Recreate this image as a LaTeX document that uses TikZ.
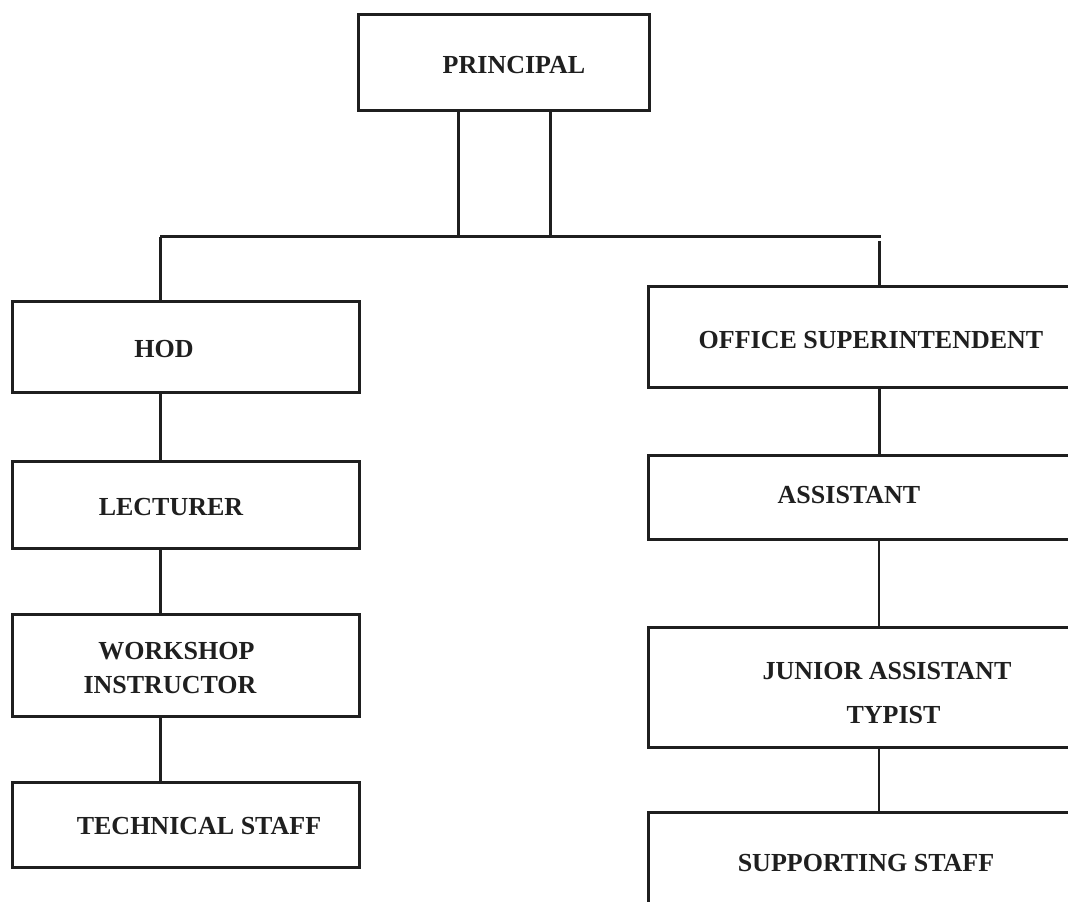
\documentclass[tikz,border=0pt]{standalone}
\usepackage{fontspec}
\setmainfont{Liberation Serif}
\usetikzlibrary{fit}

\tikzset{
	orgbox/.style = {draw, inner sep = 0pt, line width = 2.25pt, color = black!88},
	orgtext/.style = {font = \bfseries\fontsize{19.5}{26}\selectfont, align = center,
		inner sep = 0pt, text = black!88},
	link/.style = {line width = 2.25pt, color = black!88},
	thinlink/.style = {line width = 1.5pt, color = black!88}
}

\begin{document}
\begin{tikzpicture}[x=0.75pt, y=-0.75pt]
\clip (0,0) rectangle (1068,902);

% boxes
\node[orgbox, fit={(358,15) (649,111)}] (principal) {};
\node[orgbox, fit={(12,302) (359,393)}] (hod) {};
\node[orgbox, fit={(12,461) (359,548)}] (lecturer) {};
\node[orgbox, fit={(12,614) (359,716)}] (workshop) {};
\node[orgbox, fit={(12,782) (359,867)}] (technical) {};
\node[orgbox, fit={(648,287) (1090,388)}] (office) {};
\node[orgbox, fit={(648,455) (1090,539)}] (assistant) {};
\node[orgbox, fit={(648,627) (1090,747)}] (junior) {};
\node[orgbox, fit={(648,812) (1090,940)}] (supporting) {};

% labels
\node[orgtext] (tprincipal) at (514,65) {PRINCIPAL};
\node[orgtext] (thod) at (164,349) {HOD};
\node[orgtext] (tlecturer) at (171,507) {LECTURER};
\node[orgtext] (tworkshop) at (170,668) {\hspace*{0.5em}WORKSHOP\\INSTRUCTOR};
\node[orgtext] (ttechnical) at (199,826) {TECHNICAL STAFF};
\node[orgtext] (toffice) at (871,340) {OFFICE SUPERINTENDENT};
\node[orgtext] (tassistant) at (849,495) {ASSISTANT};
\node[orgtext, font=\bfseries\fontsize{19.5}{33}\selectfont] (tjunior) at (887,693) {JUNIOR ASSISTANT\\\hspace*{0.5em}TYPIST};
\node[orgtext] (tsupporting) at (866,863) {SUPPORTING STAFF};

% bus
\coordinate (busL) at (160,237);
\coordinate (busR) at (881,237);
\coordinate (j1) at (458,237);
\coordinate (j2) at (550,237);
\coordinate (jr) at (879,241);

\draw[link] (busL) -- (busR);
\draw[link] (principal.south -| j1) -- (j1);
\draw[link] (principal.south -| j2) -- (j2);
\draw[link] (busL) -- (hod.north -| busL);
\draw[link] (jr) -- (office.north -| jr);

% left column
\draw[link] (hod.south -| busL) -- (lecturer.north -| busL);
\draw[link] (lecturer.south -| busL) -- (workshop.north -| busL);
\draw[link] (workshop.south -| busL) -- (technical.north -| busL);

% right column
\draw[link] (office.south -| jr) -- (assistant.north -| jr);
\draw[thinlink] (assistant.south -| jr) -- (junior.north -| jr);
\draw[thinlink] (junior.south -| jr) -- (supporting.north -| jr);

\end{tikzpicture}
\end{document}
